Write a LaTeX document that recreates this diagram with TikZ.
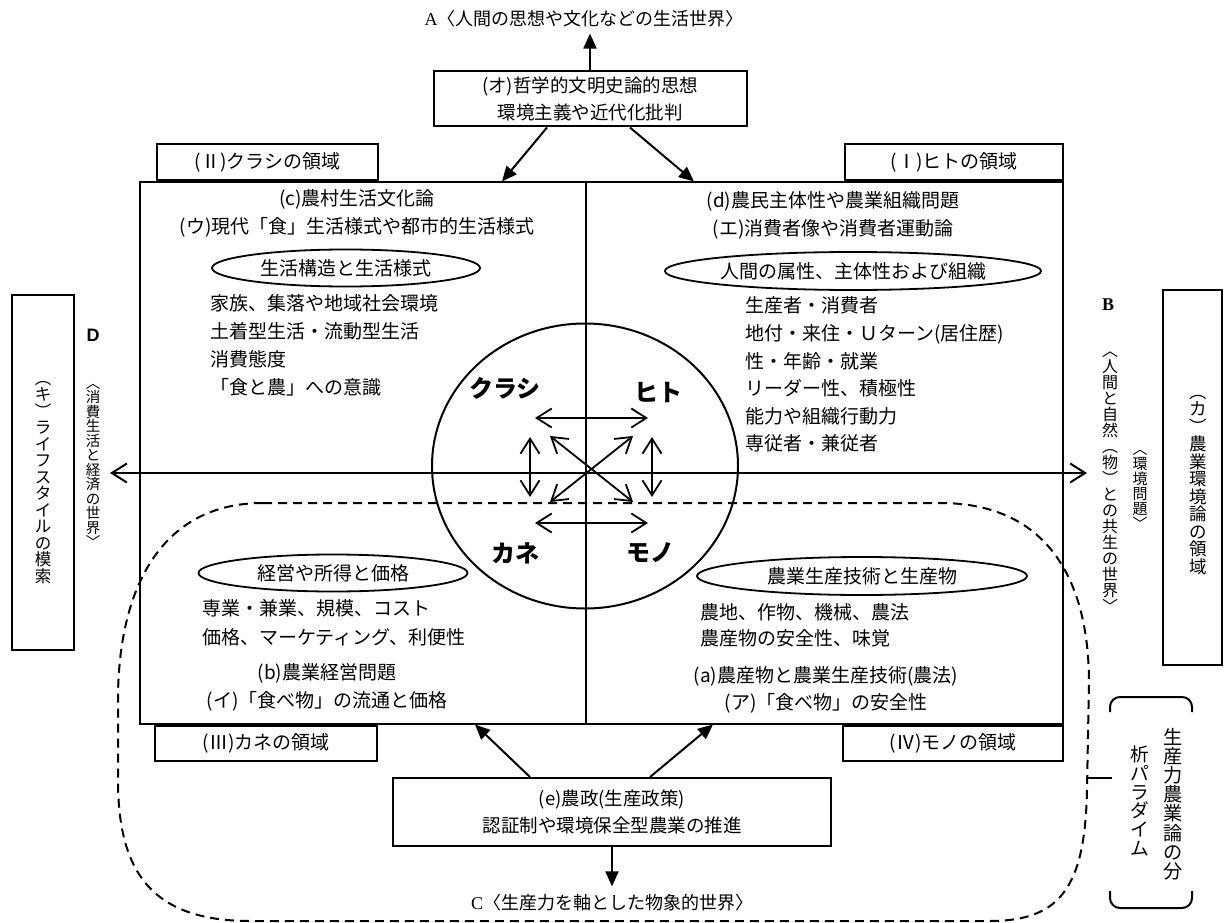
\documentclass[tikz,border=0pt]{standalone}
\usepackage{fontspec}
\setmainfont{Liberation Serif}
\newfontfamily\jp{Noto Sans CJK JP}
\newfontfamily\lsans{Liberation Sans}
\usepackage{tikz}
\usetikzlibrary{arrows.meta, shapes.geometric, calc}
\tikzset{
  box/.style={draw, line width=2pt, inner sep=0pt},
  tab/.style={box, minimum height=36pt, font=\jp\fontsize{19pt}{22pt}\selectfont},
  theme/.style={draw, ellipse, line width=1.8pt, inner sep=0pt, minimum height=37pt,
    font=\jp\fontsize{19pt}{22pt}\selectfont},
  hd/.style={align=center, inner sep=0pt, font=\jp\fontsize{19pt}{27.5pt}\selectfont},
  lst/.style={align=left, inner sep=0pt, anchor=west, font=\jp\fontsize{19pt}{#1pt}\selectfont},
  lst/.default=28,
  qlabel/.style={inner sep=0pt, font=\jp\bfseries\fontsize{24pt}{26pt}\selectfont},
  world/.style={inner sep=0pt, font=\fontsize{18pt}{20pt}\selectfont},
  vt/.style={align=center, inner sep=0pt, font=\jp\fontsize{#1pt}{#1pt}\selectfont},
  arr/.style={line width=2pt, -{Triangle[length=15pt, width=13pt]}},
  dbl/.style={line width=1.8pt,
    {Straight Barb[length=15pt, width=19pt]}-{Straight Barb[length=15pt, width=19pt]}},
  zone/.style={line width=2pt, dash pattern=on 9pt off 6pt},
}

\begin{document}
\begin{tikzpicture}[x=1pt, y=-1pt]
\path[fill=white, use as bounding box] (0,0) rectangle (1227,923);

% Cadre central et ses quatre quadrants
\node[box, minimum width=923pt, minimum height=541pt] (main) at (601.5,453) {};
\coordinate (hub) at (586,473);
\draw[line width=2pt] (hub |- main.north) -- (hub |- main.south);

\node[tab, minimum width=221pt, anchor=south west] (tabII) at ($(main.north west)+(17,0)$) {(Ⅱ)クラシの領域};
\node[tab, minimum width=218pt, anchor=south east] (tabI) at (main.north east) {(Ⅰ)ヒトの領域};
\node[tab, minimum width=222pt, minimum height=35pt, anchor=north west] (tabIII) at ($(main.south west)+(15,0)$) {(Ⅲ)カネの領域};
\node[tab, minimum width=220pt, minimum height=35pt, anchor=north east] (tabIV) at (main.south east) {(Ⅳ)モノの領域};

\node[hd] (cHead) at (357,213.5) {(c)農村生活文化論\\(ウ)現代「食」生活様式や都市的生活様式};
\node[hd] (dHead) at (833,215.5) {(d)農民主体性や農業組織問題\\(エ)消費者像や消費者運動論};
\node[hd] (bHead) at (327,687.5) {(b)農業経営問題\\(イ)「食べ物」の流通と価格};
\node[hd] (aHead) at (826,690) {(a)農産物と農業生産技術(農法)\\(ア)「食べ物」の安全性};

\node[theme, minimum width=268pt] (life) at (346,268) {生活構造と生活様式};
\node[theme, minimum width=360pt, minimum height=38pt] (human) at (853,271) {人間の属性、主体性および組織};
\node[theme, minimum width=269pt] (biz) at (333,573) {経営や所得と価格};
\node[theme, minimum width=330pt, minimum height=38pt] (tech) at (862,576) {農業生産技術と生産物};

\node[lst] (lifeList) at (210,345.75) {家族、集落や地域社会環境\\土着型生活・流動型生活\\消費態度\\「食と農」への意識};
\node[lst=27.6] (humanList) at (745,374.7) {生産者・消費者\\地付・来住・Ｕターン(居住歴)\\性・年齢・就業\\リーダー性、積極性\\能力や組織行動力\\専従者・兼従者};
\node[lst=29] (bizList) at (202,622.5) {専業・兼業、規模、コスト\\価格、マーケティング、利便性};
\node[lst=26] (techList) at (700,625) {農地、作物、機械、農法\\農産物の安全性、味覚};

% Cercle central
\node[draw, ellipse, line width=2pt, minimum width=306pt, minimum height=285pt, inner sep=0pt] (core) at (585,466) {};
\node[qlabel] (kurashi) at (505,388) {クラシ};
\node[qlabel] (hito) at (658,392) {ヒト};
\node[qlabel] (kane) at (515,553) {カネ};
\node[qlabel] (mono) at (650,553) {モノ};

\coordinate (cross) at (591,469);
\draw[dbl] ($(cross)+(-56,-51)$) -- ($(cross)+(57,-51)$);
\draw[dbl] ($(cross)+(-56,54)$) -- ($(cross)+(57,54)$);
\draw[dbl] ($(cross)+(-61,-32)$) -- ($(cross)+(-61,28)$);
\draw[dbl] ($(cross)+(61,-32)$) -- ($(cross)+(61,28)$);
\draw[dbl] ($(cross)+(-41,-33)$) -- ($(cross)+(42,33)$);
\draw[dbl] ($(cross)+(42,-33)$) -- ($(cross)+(-41,33)$);

\coordinate (Dtip) at (110,473);
\coordinate (Btip) at (1087,473);
\draw[dbl, line width=2pt] (Dtip) -- (Btip);

% Zone en tirets
\draw[zone] (263,503) -- (940,503) .. controls (1040,503) and (1088,570) .. (1089,680)
  -- (1087,790) .. controls (1085,885) and (1062,921) .. (990,921)
  -- (250,921) .. controls (150,921) and (118,870) .. (118,780)
  -- (118,700) .. controls (118,590) and (160,503) .. (263,503) -- cycle;

% Haut : A
\node[box, minimum width=313pt, minimum height=55pt, align=center,
  font=\jp\fontsize{18.5pt}{27pt}\selectfont] (phil) at (590,99) {(オ)哲学的文明史論的思想\\環境主義や近代化批判};
\node[world] (worldA) at (584,19) {A{\jp〈人間の思想や文化などの生活世界〉}};
\draw[arr, shorten >=6pt] (phil.north) -- (phil.north |- worldA.south);
\draw[arr] ($(phil.south)+(-43,0)$) -- ($(hub |- main.north)+(-84,0)$);
\draw[arr] ($(phil.south)+(40,0)$) -- ($(hub |- main.north)+(108,0)$);

% Bas : C
\node[box, minimum width=438pt, minimum height=68pt, align=center,
  font=\jp\fontsize{18.5pt}{27pt}\selectfont] (policy) at (612,812) {(e)農政(生産政策)\\認証制や環境保全型農業の推進};
\node[world] (worldC) at (612,903) {C{\jp〈生産力を軸とした物象的世界〉}};
\draw[arr, shorten >=8pt] (policy.south) -- (policy.south |- worldC.north);
\draw[arr] ($(policy.north)+(-82,0)$) -- ($(hub |- main.south)+(-111,0)$);
\draw[arr] ($(policy.north)+(38,0)$) -- ($(hub |- main.south)+(127,0)$);

% Gauche : D
\node[box, minimum width=62pt, minimum height=355pt] (kiBox) at (43,472.5) {};
\node[vt=16.5] (kiText) at ($(kiBox)+(0,10)$) {︵\\キ\\︶\\ラ\\イ\\フ\\ス\\タ\\イ\\ル\\の\\模\\索};
\node[inner sep=0pt, font=\lsans\bfseries\fontsize{18pt}{20pt}\selectfont] (Dlab) at (93,335) {D};
\node[vt=14.5] (Dtext) at (93,466) {︿\\消\\費\\生\\活\\と\\経\\済\\の\\世\\界\\﹀};

% Droite : B
\node[inner sep=0pt, font=\bfseries\fontsize{18pt}{20pt}\selectfont] (Blab) at (1108,305) {B};
\node[vt=16] (Btext) at (1110,482) {︿\\人\\間\\と\\自\\然\\︵\\物\\︶\\と\\の\\共\\生\\の\\世\\界\\﹀};
\node[vt=15] (envText) at (1140,490) {︿\\環\\境\\問\\題\\﹀};
\node[box, minimum width=59pt, minimum height=375pt] (kaBox) at (1192.5,477.5) {};
\node[vt=17.5] (kaText) at (1198,485) {︵\\カ\\︶\\農\\業\\環\\境\\論\\の\\領\\域};

% Paradigme
\node[vt=19.2] (paraR) at (1173,804) {生\\産\\力\\農\\業\\論\\の\\分};
\node[vt=18.7] (paraL) at (1140,801) {析\\パ\\ラ\\ダ\\イ\\ム};
\draw[line width=2pt, rounded corners=10pt] (1110,712) -- (1110,697) -- (1192,697) -- (1192,712);
\draw[line width=2pt, rounded corners=10pt] (1110,891) -- (1110,908) -- (1192,908) -- (1192,891);
\coordinate (tick) at (1086,778);
\draw[line width=2pt] (tick) -- ++(26,0);

\end{tikzpicture}
\end{document}
